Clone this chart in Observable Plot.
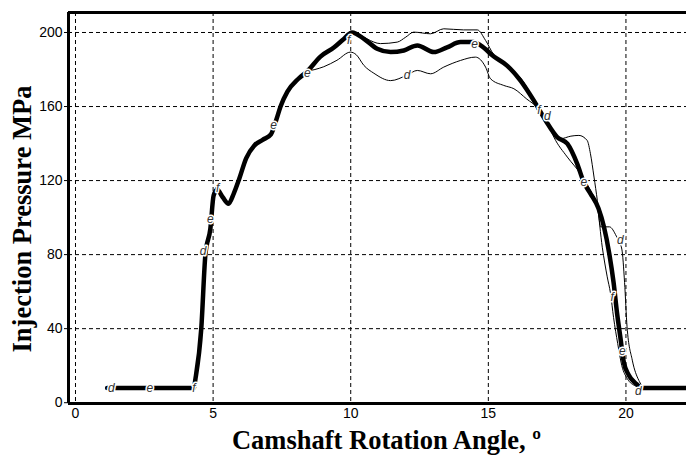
<!DOCTYPE html>
<html><head><meta charset="utf-8">
<script src="https://cdn.jsdelivr.net/npm/d3@7"></script>
<script src="https://cdn.jsdelivr.net/npm/@observablehq/plot@0.6"></script>
<style>html,body{margin:0;padding:0;background:#fff}#chart{width:686px;height:456px}</style>
</head><body><div id="chart"></div>
<script>
// Thick curve
const thickX = [1.15, 4.3, 4.36, 4.57, 4.72, 4.9, 5.02, 5.15, 5.35, 5.56, 5.75, 5.95, 6.2, 6.5, 6.8, 7.1, 7.3, 7.45, 7.7, 8.1, 8.42, 8.9, 9.4, 9.75, 10.05, 10.48, 10.96, 11.45, 11.93, 12.42, 13.02, 13.5, 13.99, 14.47, 14.72, 15.2, 15.69, 16.17, 16.65, 17.08, 17.5, 17.87, 18.23, 18.47, 18.71, 19.0, 19.2, 19.4, 19.55, 19.68, 19.8, 19.92, 20.1, 20.35, 20.6, 22.3];
const thickY = [8, 8, 13, 40, 80, 94, 112, 115, 111, 107.5, 113, 121, 132, 139, 142, 145, 153, 160, 168, 175, 179, 187, 192, 196.5, 200, 196.6, 191.2, 189.4, 190.3, 193, 189.4, 192, 194.8, 194.8, 193, 187, 182, 174, 163.3, 152.5, 143.5, 139.9, 129, 119, 113, 105, 95, 80, 65, 48, 35, 22, 15, 10.5, 8, 8];
// Lower thin curve (d)
const lowerX = [1.15, 4.3, 4.36, 4.57, 4.72, 4.9, 5.02, 5.15, 5.35, 5.56, 5.75, 5.95, 6.2, 6.5, 6.8, 7.1, 7.3, 7.45, 7.7, 8.1, 8.42, 8.7, 9.02, 9.5, 9.99, 10.2, 10.48, 10.84, 11.45, 12.05, 12.42, 12.9, 13.38, 13.99, 14.53, 14.9, 15.08, 15.56, 15.93, 16.4, 16.77, 17.08, 17.38, 17.87, 18.35, 18.71, 18.96, 19.14, 19.32, 19.44, 19.55, 19.7, 19.85, 20.05, 20.35, 20.6, 22.3];
const lowerY = [8, 8, 13, 40, 80, 94, 112, 115, 111, 107.5, 113, 121, 132, 139, 142, 145, 153, 160, 168, 175, 179, 180, 181.5, 185, 189.4, 188, 182.2, 178, 174, 177, 179.5, 177.7, 181.3, 184.9, 186.7, 181.3, 175, 171.4, 169.6, 164, 159.7, 154, 143.5, 132.7, 123.7, 114.7, 105.7, 84, 68, 59, 46, 32, 20, 13, 9, 8, 8];
// Upper thin curve (f)
const upperX = [1.15, 4.3, 4.36, 4.57, 4.72, 4.9, 5.02, 5.15, 5.35, 5.56, 5.75, 5.95, 6.2, 6.5, 6.8, 7.1, 7.3, 7.45, 7.7, 8.1, 8.42, 8.9, 9.4, 9.75, 10.0, 10.3, 10.6, 11.08, 11.69, 12.0, 12.29, 12.9, 13.38, 14.1, 14.6, 14.9, 15.2, 15.5, 15.8, 16.17, 16.65, 17.08, 17.62, 18.0, 18.29, 18.59, 18.71, 18.84, 18.96, 19.08, 19.4, 19.65, 19.85, 19.95, 20.04, 20.23, 20.47, 20.65, 22.3];
const upperY = [8, 8, 13, 40, 80, 94, 112, 117, 111, 107.5, 113, 121, 132, 139, 142, 145, 153, 160, 168, 175, 179, 187, 192, 196.5, 200.5, 199, 196.5, 194, 194.8, 197.5, 200.2, 199.3, 202, 201.4, 201.4, 195.7, 188, 184.5, 180.5, 175.5, 164, 153, 142.6, 144, 144.4, 141.7, 134.5, 121.9, 109.3, 95, 95, 90, 83, 65, 41, 23, 12, 8.5, 8];
// Curve letter labels
const labelX = [1.3, 2.7, 4.3, 4.64, 4.9, 5.17, 7.2, 8.42, 9.93, 12.05, 14.5, 16.84, 17.14, 18.47, 19.8, 19.5, 19.87, 20.45];
const labelY = [8, 8, 8, 82, 99, 116, 150, 178, 196, 177, 193.5, 158, 155, 119, 88, 57, 28, 6];
const labelText = ["d", "e", "f", "d", "e", "f", "e", "e", "f", "d", "e", "f", "d", "e", "d", "f", "e", "d"];
// Axes
const xTicks = [0, 5, 10, 15, 20];
const yTicks = [0, 40, 80, 120, 160, 200];
const xDomain = [-0.254, 22.2];
const yDomain = [-0.43, 210.8];
const xTitle = "Camshaft Rotation Angle, º";
const yTitle = "Injection Pressure MPa";

const rows = (xs, ys) => xs.map((x, i) => ({x, y: ys[i]}));
const labels = labelX.map((x, i) => ({x, y: labelY[i], t: labelText[i]}));

const chart = Plot.plot({
  width: 686, height: 456,
  marginLeft: 68, marginRight: 0, marginTop: 12, marginBottom: 53,
  style: {fontFamily: "'Liberation Sans', Arial, sans-serif", fontSize: "14px", background: "#fff", color: "#000"},
  x: {domain: xDomain, ticks: xTicks, tickSize: 0, tickPadding: 5, label: null, tickFormat: d => String(d)},
  y: {domain: yDomain, ticks: yTicks, tickSize: 4, tickPadding: 2, label: null, tickFormat: d => String(d)},
  marks: [
    Plot.ruleX(xTicks, {stroke: "#000", strokeWidth: 1, strokeDasharray: "4,3"}),
    Plot.ruleY(yTicks, {stroke: "#000", strokeWidth: 1, strokeDasharray: "4,3"}),
    Plot.line(rows(lowerX, lowerY), {x: "x", y: "y", stroke: "#000", strokeWidth: 1, curve: "monotone-x"}),
    Plot.line(rows(upperX, upperY), {x: "x", y: "y", stroke: "#000", strokeWidth: 1, curve: "monotone-x"}),
    Plot.line(rows(thickX, thickY), {x: "x", y: "y", stroke: "#000", strokeWidth: 4.5, curve: "monotone-x"}),
    Plot.text(labels, {x: "x", y: "y", text: "t", fontSize: 12, fontStyle: "italic", fill: "#fff", stroke: "#fff", strokeWidth: 3, fontFamily: "'Liberation Sans', Arial, sans-serif"}),
    Plot.text(labels, {x: "x", y: "y", text: "t", fontSize: 12, fontStyle: "italic", fill: "#333", fontFamily: "'Liberation Sans', Arial, sans-serif"}),
    Plot.ruleX([xDomain[0]], {stroke: "#000", strokeWidth: 3}),
    Plot.ruleY([yDomain[1]], {stroke: "#000", strokeWidth: 3}),
    Plot.ruleY([yDomain[0]], {stroke: "#000", strokeWidth: 3}),
    Plot.text([xTitle], {text: d => d, frameAnchor: "bottom", textAnchor: "middle", lineAnchor: "middle", dx: 9, dy: 37, fontFamily: "'Liberation Serif', 'Times New Roman', serif", fontWeight: "bold", fontSize: 26.5, fill: "#000"}),
    Plot.text([yTitle], {text: d => d, frameAnchor: "left", textAnchor: "middle", lineAnchor: "middle", rotate: -90, dx: -46, dy: 11, fontFamily: "'Liberation Serif', 'Times New Roman', serif", fontWeight: "bold", fontSize: 26.5, fill: "#000"})
  ]
});
document.getElementById("chart").appendChild(chart);
</script>
</body></html>
